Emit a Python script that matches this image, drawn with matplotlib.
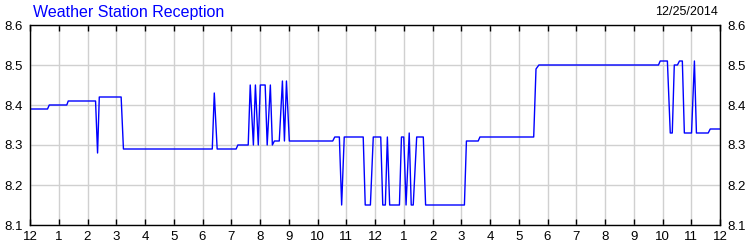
import matplotlib
matplotlib.use("Agg")
import matplotlib.pyplot as plt

plt.rcParams['font.family'] = ['Liberation Sans', 'DejaVu Sans']

# hours since midnight (12/25/2014) and reception values
hours = [0, 0.61, 0.67, 1.28, 1.33, 2.28, 2.35, 2.41, 3.17, 3.25,
         6.34, 6.41, 6.51, 7.17, 7.23, 7.59, 7.66, 7.77, 7.84, 7.94,
         8.01, 8.18, 8.25, 8.36, 8.43, 8.50, 8.67, 8.78, 8.85, 8.92,
         9.02, 10.53, 10.60, 10.76, 10.84, 10.93, 11.59, 11.66, 11.84, 11.94,
         12.20, 12.27, 12.36, 12.43, 12.51, 12.85, 12.92, 13.00, 13.08, 13.19,
         13.26, 13.33, 13.45, 13.68, 13.76, 15.11, 15.18, 15.59, 15.65, 17.52,
         17.60, 17.70, 21.86, 21.92, 22.17, 22.27, 22.34, 22.41, 22.52, 22.59,
         22.69, 22.76, 23.01, 23.11, 23.18, 23.59, 23.66, 24.0]
values = [8.39, 8.39, 8.40, 8.40, 8.41, 8.41, 8.28, 8.42, 8.42, 8.29,
          8.29, 8.43, 8.29, 8.29, 8.30, 8.30, 8.45, 8.30, 8.45, 8.30,
          8.45, 8.45, 8.30, 8.45, 8.30, 8.31, 8.31, 8.46, 8.31, 8.46,
          8.31, 8.31, 8.32, 8.32, 8.15, 8.32, 8.32, 8.15, 8.15, 8.32,
          8.32, 8.15, 8.15, 8.32, 8.15, 8.15, 8.32, 8.32, 8.15, 8.33,
          8.15, 8.15, 8.32, 8.32, 8.15, 8.15, 8.31, 8.31, 8.32, 8.32,
          8.49, 8.50, 8.50, 8.51, 8.51, 8.33, 8.33, 8.50, 8.50, 8.51,
          8.51, 8.33, 8.33, 8.51, 8.33, 8.33, 8.34, 8.34]

xticks = list(range(25))
xlabels = ['12'] + [str(h) for h in range(1, 12)] + ['12'] + [str(h) for h in range(1, 12)] + ['12']
yticks = [8.1, 8.2, 8.3, 8.4, 8.5, 8.6]

fig = plt.figure(figsize=(7.5, 2.5), dpi=100)
ax = fig.add_axes([30 / 750, 1 - 225 / 250, 690 / 750, 200 / 250])

ax.plot(hours, values, color='#0000ff', lw=1)

ax.set_xlim(0, 24)
ax.set_ylim(8.1, 8.6)
ax.set_xticks(xticks)
ax.set_xticklabels(xlabels)
ax.set_yticks(yticks)
ax.set_yticklabels(['%.1f' % v for v in yticks])
ax.grid(True, color='#d0d0d0', lw=1)
ax.set_axisbelow(True)

ax.tick_params(axis='x', direction='in', top=True, length=4, width=1,
               labelsize=9.5, pad=4, colors='black')
ax.tick_params(axis='y', length=0, left=False, right=False,
               labelleft=True, labelright=True, labelsize=9.5, pad=5)
for s in ax.spines.values():
    s.set_color('black')
    s.set_linewidth(1)

fig.text(33 / 750, 1 - 12 / 250, 'Weather Station Reception', color='#0000ff',
         fontsize=11.5, ha='left', va='center')
fig.text(718 / 750, 1 - 12 / 250, '12/25/2014', color='black',
         fontsize=9, ha='right', va='center')

fig.savefig('out.png', dpi=100)
